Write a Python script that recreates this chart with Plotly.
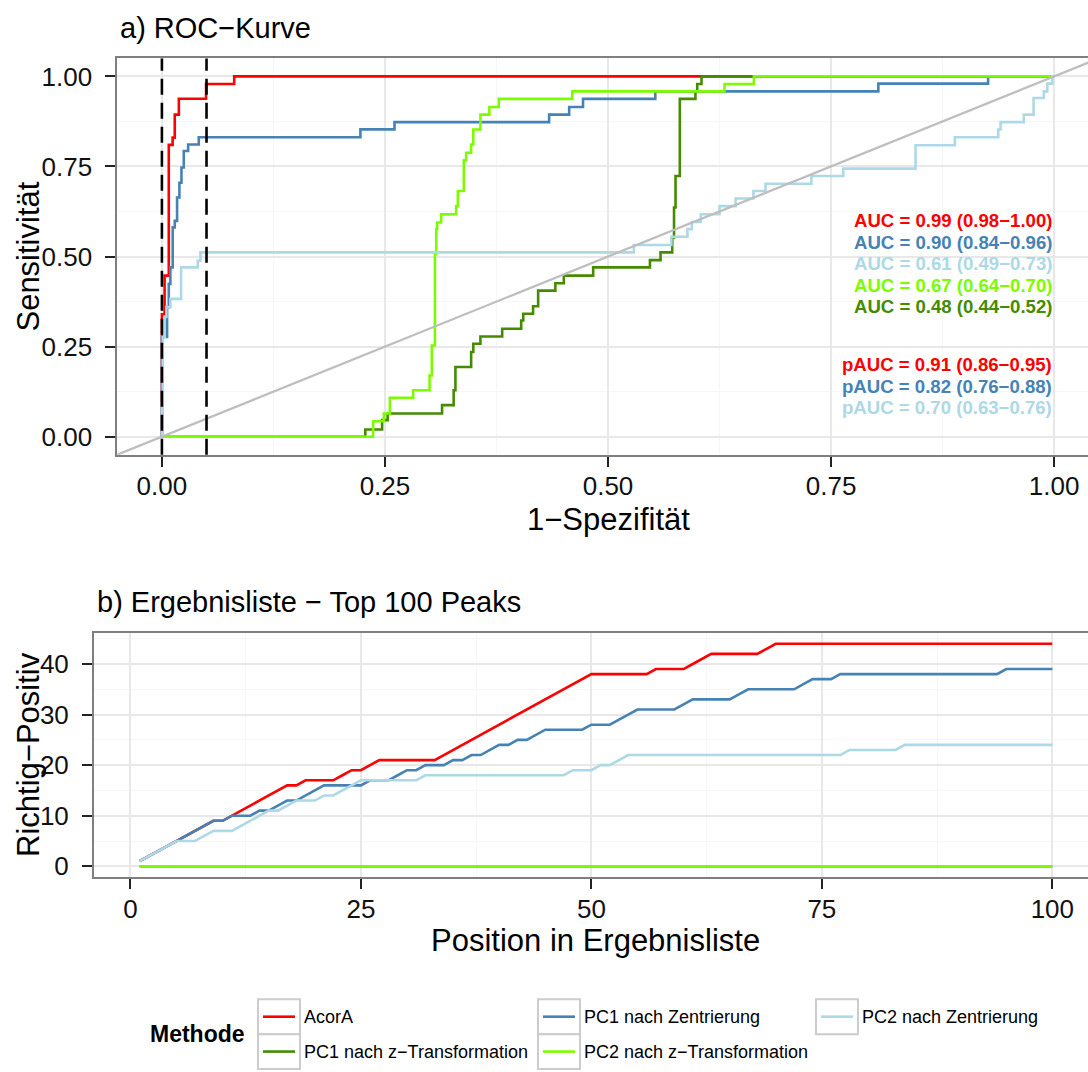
import plotly.graph_objects as go

W, H = 1088, 1072
FONT = "Liberation Sans, Arial, sans-serif"

# ---- methods and colours -------------------------------------------------
methods = ["AcorA", "PC1 nach z−Transformation", "PC1 nach Zentrierung",
           "PC2 nach z−Transformation", "PC2 nach Zentrierung"]
method_colors = ["#FF0000", "#458B00", "#4682B4", "#7CFC00", "#ADD8E6"]

# ---- a) ROC curves: 1-specificity (fpr) and sensitivity (tpr) -------------
fpr_acora = [0, 0, 0.003, 0.003, 0.0077, 0.0077, 0.012, 0.012, 0.0144, 0.0144,
             0.019, 0.019, 0.0495, 0.0495, 0.081, 0.081, 1.0]
tpr_acora = [0, 0.34, 0.34, 0.447, 0.447, 0.81, 0.81, 0.83, 0.83, 0.894,
             0.894, 0.938, 0.938, 0.979, 0.979, 1.0, 1.0]

fpr_pc1_z = [0, 0.228, 0.228, 0.2468, 0.2468, 0.253, 0.253, 0.314, 0.314, 0.327,
             0.327, 0.329, 0.329, 0.3466, 0.3466, 0.349, 0.349, 0.357, 0.357, 0.3814,
             0.3814, 0.4027, 0.4027, 0.405, 0.405, 0.416, 0.416, 0.4217, 0.4217, 0.441,
             0.441, 0.4505, 0.4505, 0.4834, 0.4834, 0.547, 0.547, 0.5589, 0.5589, 0.572,
             0.572, 0.574, 0.574, 0.5757, 0.5757, 0.5805, 0.5805, 0.598, 0.598, 0.600,
             0.600, 0.6048, 0.6048, 1.0]
tpr_pc1_z = [0, 0, 0.020, 0.020, 0.046, 0.046, 0.0645, 0.0645, 0.0875, 0.0875,
             0.129, 0.129, 0.1935, 0.1935, 0.235, 0.235, 0.258, 0.258, 0.278, 0.278,
             0.2995, 0.2995, 0.3225, 0.3225, 0.341, 0.341, 0.362, 0.362, 0.4055, 0.4055,
             0.426, 0.426, 0.447, 0.447, 0.470, 0.470, 0.490, 0.490, 0.5115, 0.5115,
             0.553, 0.553, 0.636, 0.636, 0.7235, 0.7235, 0.9375, 0.9375, 0.9585, 0.9585,
             0.979, 0.979, 1.0, 1.0]

fpr_pc1_zent = [0, 0, 0.0058, 0.0058, 0.0077, 0.0077, 0.0095, 0.0095, 0.0121, 0.0121,
                0.0144, 0.0144, 0.017, 0.017, 0.0196, 0.0196, 0.0219, 0.0219, 0.0245, 0.0245,
                0.0294, 0.0294, 0.0413, 0.0413, 0.2225, 0.2225, 0.2607, 0.2607, 0.434, 0.434,
                0.4565, 0.4565, 0.472, 0.472, 0.553, 0.553, 0.803, 0.803, 0.926, 0.926, 1.0]
tpr_pc1_zent = [0, 0.2766, 0.2766, 0.3595, 0.3595, 0.424, 0.424, 0.470, 0.470, 0.581,
                0.581, 0.599, 0.599, 0.664, 0.664, 0.705, 0.705, 0.747, 0.747, 0.793,
                0.793, 0.811, 0.811, 0.831, 0.831, 0.853, 0.853, 0.873, 0.873, 0.894,
                0.894, 0.915, 0.915, 0.9375, 0.9375, 0.9585, 0.9585, 0.98, 0.98, 1.0, 1.0]

fpr_pc2_z = [0, 0.2367, 0.2367, 0.2487, 0.2487, 0.2555, 0.2555, 0.2816, 0.2816, 0.300,
             0.300, 0.3025, 0.3025, 0.306, 0.306, 0.3075, 0.3075, 0.3085, 0.3085, 0.313,
             0.313, 0.3298, 0.3298, 0.3317, 0.3317, 0.3384, 0.3384, 0.341, 0.341, 0.3466,
             0.3466, 0.349, 0.349, 0.357, 0.357, 0.367, 0.367, 0.3776, 0.3776, 0.46,
             0.46, 0.6306, 0.6306, 0.6635, 0.6635, 1.0]
tpr_pc2_z = [0, 0, 0.043, 0.043, 0.0645, 0.0645, 0.108, 0.108, 0.129, 0.129,
             0.170, 0.170, 0.253, 0.253, 0.507, 0.507, 0.576, 0.576, 0.5945, 0.5945,
             0.6175, 0.6175, 0.640, 0.640, 0.682, 0.682, 0.767, 0.767, 0.788, 0.788,
             0.811, 0.811, 0.8526, 0.8526, 0.894, 0.894, 0.915, 0.915, 0.9375, 0.9375,
             0.9585, 0.9585, 0.979, 0.979, 1.0, 1.0]

fpr_pc2_zent = [0, 0, 0.001, 0.001, 0.0031, 0.0031, 0.005, 0.005, 0.0095, 0.0095,
                0.0215, 0.0215, 0.0402, 0.0402, 0.0432, 0.0432, 0.529, 0.529, 0.571, 0.571,
                0.589, 0.589, 0.594, 0.594, 0.604, 0.604, 0.625, 0.625, 0.643, 0.643,
                0.663, 0.663, 0.6766, 0.6766, 0.728, 0.728, 0.7637, 0.7637, 0.8447, 0.8447,
                0.8888, 0.8888, 0.9374, 0.9374, 0.940, 0.940, 0.966, 0.966, 0.977, 0.977,
                0.9885, 0.9885, 0.9924, 0.9924, 0.998, 0.998, 1.0]
tpr_pc2_zent = [0, 0.092, 0.092, 0.2766, 0.2766, 0.332, 0.332, 0.3595, 0.3595, 0.3825,
                0.3825, 0.470, 0.470, 0.4885, 0.4885, 0.5115, 0.5115, 0.532, 0.532, 0.555,
                0.555, 0.576, 0.576, 0.596, 0.596, 0.6175, 0.6175, 0.640, 0.640, 0.661,
                0.661, 0.682, 0.682, 0.702, 0.702, 0.7235, 0.7235, 0.744, 0.744, 0.809,
                0.809, 0.831, 0.831, 0.8526, 0.8526, 0.873, 0.873, 0.894, 0.894, 0.940,
                0.940, 0.9585, 0.9585, 0.98, 0.98, 1.0, 1.0]

roc_fpr = [fpr_acora, fpr_pc1_z, fpr_pc1_zent, fpr_pc2_z, fpr_pc2_zent]
roc_tpr = [tpr_acora, tpr_pc1_z, tpr_pc1_zent, tpr_pc2_z, tpr_pc2_zent]

# cut-off lines for the partial AUC
fpr_cutoffs = [0.0, 0.05]

# AUC labels (full and partial), with the sensitivity level they are placed at
auc_labels = ["AUC = 0.99 (0.98−1.00)", "AUC = 0.90 (0.84−0.96)",
              "AUC = 0.61 (0.49−0.73)", "AUC = 0.67 (0.64−0.70)",
              "AUC = 0.48 (0.44−0.52)"]
auc_colors = ["#FF0000", "#4682B4", "#ADD8E6", "#7CFC00", "#458B00"]
auc_y = [0.60, 0.54, 0.48, 0.42, 0.36]
pauc_labels = ["pAUC = 0.91 (0.86−0.95)", "pAUC = 0.82 (0.76−0.88)",
               "pAUC = 0.70 (0.63−0.76)"]
pauc_colors = ["#FF0000", "#4682B4", "#ADD8E6"]
pauc_y = [0.20, 0.14, 0.08]

roc_ticks = [0, 0.25, 0.5, 0.75, 1.0]

# ---- b) true positives among the top 100 peaks ---------------------------
rank_position = list(range(1, 101))
tp_acora = [1, 2, 3, 4, 5, 6, 7, 8, 9, 9,
            10, 11, 12, 13, 14, 15, 16, 16, 17, 17,
            17, 17, 18, 19, 19, 20, 21, 21, 21, 21,
            21, 21, 21, 22, 23, 24, 25, 26, 27, 28,
            29, 30, 31, 32, 33, 34, 35, 36, 37, 38,
            38, 38, 38, 38, 38, 38, 39, 39, 39, 39,
            40, 41, 42, 42, 42, 42, 42, 42, 43, 44,
            44, 44, 44, 44, 44, 44, 44, 44, 44, 44,
            44, 44, 44, 44, 44, 44, 44, 44, 44, 44,
            44, 44, 44, 44, 44, 44, 44, 44, 44, 44]
tp_pc1_z = [0] * 100
tp_pc1_zent = [1, 2, 3, 4, 5, 6, 7, 8, 9, 9,
               10, 10, 10, 11, 11, 12, 13, 13, 14, 15,
               16, 16, 16, 16, 16, 17, 17, 17, 18, 19,
               19, 20, 20, 20, 21, 21, 22, 22, 23, 24,
               24, 25, 25, 26, 27, 27, 27, 27, 27, 28,
               28, 28, 29, 30, 31, 31, 31, 31, 31, 32,
               33, 33, 33, 33, 33, 34, 35, 35, 35, 35,
               35, 35, 36, 37, 37, 37, 38, 38, 38, 38,
               38, 38, 38, 38, 38, 38, 38, 38, 38, 38,
               38, 38, 38, 38, 39, 39, 39, 39, 39, 39]
tp_pc2_z = [0] * 100
tp_pc2_zent = [1, 2, 3, 4, 5, 5, 5, 6, 7, 7,
               7, 8, 9, 10, 11, 11, 12, 13, 13, 13,
               14, 14, 15, 16, 17, 17, 17, 17, 17, 17,
               17, 18, 18, 18, 18, 18, 18, 18, 18, 18,
               18, 18, 18, 18, 18, 18, 18, 19, 19, 19,
               20, 20, 21, 22, 22, 22, 22, 22, 22, 22,
               22, 22, 22, 22, 22, 22, 22, 22, 22, 22,
               22, 22, 22, 22, 22, 22, 22, 23, 23, 23,
               23, 23, 23, 24, 24, 24, 24, 24, 24, 24,
               24, 24, 24, 24, 24, 24, 24, 24, 24, 24]
tp_series = [tp_acora, tp_pc1_z, tp_pc1_zent, tp_pc2_z, tp_pc2_zent]

rank_ticks = [0, 25, 50, 75, 100]
tp_ticks = [0, 10, 20, 30, 40]

# ---- figure ---------------------------------------------------------------
fig = go.Figure()
LW = 2.6

for name, col, fx, ty in zip(methods, method_colors, roc_fpr, roc_tpr):
    fig.add_trace(go.Scatter(x=fx, y=ty, mode="lines", name=name,
                             line=dict(color=col, width=LW),
                             xaxis="x", yaxis="y", showlegend=False,
                             hoverinfo="skip"))

# chance diagonal over the whole panel
fig.add_trace(go.Scatter(x=[-0.1, 1.1], y=[-0.1, 1.1], mode="lines",
                         line=dict(color="#BEBEBE", width=2.3),
                         xaxis="x", yaxis="y", showlegend=False,
                         hoverinfo="skip"))

for name, col, tp in zip(methods, method_colors, tp_series):
    fig.add_trace(go.Scatter(x=rank_position, y=tp, mode="lines", name=name,
                             line=dict(color=col, width=LW),
                             xaxis="x2", yaxis="y2", showlegend=False,
                             hoverinfo="skip"))

# dashed cut-off lines
for xc in fpr_cutoffs:
    fig.add_shape(type="line", xref="x", yref="y domain", x0=xc, x1=xc,
                  y0=0, y1=1, line=dict(color="black", width=2.6, dash="16px,8px"),
                  layer="above")

for txt, col, yy in zip(auc_labels, auc_colors, auc_y):
    fig.add_annotation(x=1.0, y=yy, xref="x", yref="y", text=txt,
                       showarrow=False, xanchor="right", yanchor="middle",
                       font=dict(family=FONT, size=18.6, color=col, weight="bold"))
for txt, col, yy in zip(pauc_labels, pauc_colors, pauc_y):
    fig.add_annotation(x=1.0, y=yy, xref="x", yref="y", text=txt,
                       showarrow=False, xanchor="right", yanchor="middle",
                       font=dict(family=FONT, size=18.6, color=col, weight="bold"))


def px_x(p):
    return p / W


def px_y(p):
    return 1 - p / H


grid_major = "#E8E8E8"
grid_minor = "#F6F6F6"
border = "#7F7F7F"
tick_font = dict(family=FONT, size=26, color="#111111")

axis_common = dict(showline=True, linecolor=border, linewidth=2,
                   ticks="outside", ticklen=10, tickwidth=2, tickcolor="#222222",
                   showgrid=True, gridcolor=grid_major, gridwidth=1.6,
                   zeroline=False, tickfont=tick_font)

fig.update_layout(
    width=W, height=H, autosize=False,
    margin=dict(l=0, r=0, t=0, b=0),
    paper_bgcolor="white", plot_bgcolor="white",
    font=dict(family=FONT),
    xaxis=dict(domain=[px_x(117.3), 1], range=[-0.05, 1.038], anchor="y",
               tickvals=roc_ticks, tickformat=".2f", mirror=True,
               minor=dict(tickvals=[0.125, 0.375, 0.625, 0.875], showgrid=True,
                          gridcolor=grid_minor, gridwidth=1.2, ticks=""),
               ticklabelstandoff=-3, **axis_common),
    yaxis=dict(domain=[px_y(456.4), px_y(58.6)], range=[-0.05, 1.05], anchor="x",
               tickvals=roc_ticks, tickformat=".2f",
               minor=dict(tickvals=[0.125, 0.375, 0.625, 0.875], showgrid=True,
                          gridcolor=grid_minor, gridwidth=1.2, ticks=""),
               ticklabelstandoff=8, **axis_common),
    xaxis2=dict(domain=[px_x(94), 1], range=[-3.95, 103.87], anchor="y2",
                tickvals=rank_ticks, mirror=True,
                minor=dict(tickvals=[12.5, 37.5, 62.5, 87.5], showgrid=True,
                           gridcolor=grid_minor, gridwidth=1.2, ticks=""),
                ticklabelstandoff=-3, **axis_common),
    yaxis2=dict(domain=[px_y(880.7), px_y(635)], range=[-2.2, 46.2], anchor="x2",
                tickvals=tp_ticks,
                minor=dict(tickvals=[5, 15, 25, 35, 45], showgrid=True,
                           gridcolor=grid_minor, gridwidth=1.2, ticks=""),
                ticklabelstandoff=8, **axis_common),
)


# titles and axis titles
def text(x, y, s, size, anchor="center", angle=0, bold=False):
    fig.add_annotation(x=px_x(x), y=px_y(y), xref="paper", yref="paper", text=s,
                       showarrow=False, xanchor=anchor, yanchor="middle",
                       textangle=angle,
                       font=dict(family=FONT, size=size, color="black",
                                 weight="bold" if bold else "normal"))


text(118, 28, "a) ROC−Kurve", 29, anchor="left")
text(29, 257.5, "Sensitivität", 31, angle=-90)
text(608, 521, "1−Spezifität", 31)
text(95, 604, "b) Ergebnisliste − Top 100 Peaks", 29, anchor="left")
text(29, 757.8, "Richtig−Positiv", 31, angle=-90)
text(595, 944, "Position in Ergebnisliste", 31)

# legend drawn below the panels (column-wise, two rows)
key_cols = [258, 538, 816]
key_rows = [1003, 1038]
key_w, key_h = 42, 35
text(148, 1038, "Methode", 23, anchor="left", bold=True)
for i, (name, col) in enumerate(zip(methods, method_colors)):
    cx = key_cols[i // 2]
    ry = key_rows[i % 2]
    fig.add_shape(type="rect", xref="paper", yref="paper",
                  x0=px_x(cx), x1=px_x(cx + key_w), y0=px_y(ry + key_h), y1=px_y(ry),
                  line=dict(color="#CCCCCC", width=2), fillcolor="white")
    fig.add_shape(type="line", xref="paper", yref="paper",
                  x0=px_x(cx + 5), x1=px_x(cx + key_w - 5),
                  y0=px_y(ry + key_h / 2), y1=px_y(ry + key_h / 2),
                  line=dict(color=col, width=2.6))
    text(cx + key_w + 2, ry + key_h / 2, name, 18, anchor="left")

fig.write_html("out.html")
